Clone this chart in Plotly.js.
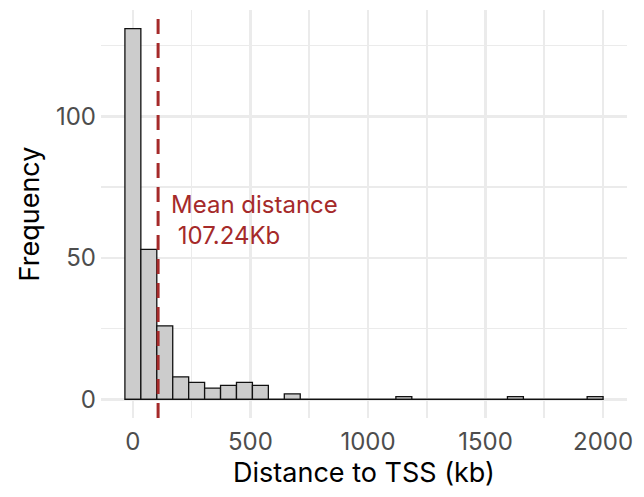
<!DOCTYPE html>
<html>
<head>
<meta charset="utf-8">
<script src="https://cdn.plot.ly/plotly-3.0.1.min.js"></script>
<style>html,body{margin:0;padding:0;background:#fff;}#chart{width:644px;height:497px;}</style>
</head>
<body>
<div id="chart"></div>
<script>
// Histogram bins (kb) and counts
const binCenters = [0, 67.8, 135.6, 203.4, 271.2, 339, 406.8, 474.6, 542.4, 610.2,
  678, 745.8, 813.6, 881.4, 949.2, 1017, 1084.8, 1152.6, 1220.4, 1288.2,
  1356, 1423.8, 1491.6, 1559.4, 1627.2, 1695, 1762.8, 1830.6, 1898.4, 1966.2];
const binWidth = 67.8;
const counts = [131, 53, 26, 8, 6, 4, 5, 6, 5, 0,
  2, 0, 0, 0, 0, 0, 0, 1, 0, 0,
  0, 0, 0, 0, 1, 0, 0, 0, 0, 1];
const meanDistance = 107.24;
const xTicks = [0, 500, 1000, 1500, 2000];
const yTicks = [0, 50, 100];

const font = "Inter, 'Noto Sans', sans-serif";
const red = "#a52a2a";

const xmin = binCenters[0] - binWidth / 2;
const xmax = binCenters[binCenters.length - 1] + binWidth / 2;
const xpad = (xmax - xmin) * 0.05;
const ymax = Math.max(...counts);
const ypad = ymax * 0.05;

const traces = [
  {
    type: "bar",
    x: binCenters,
    y: counts,
    width: binCenters.map(() => binWidth),
    marker: { color: "#cccccc", line: { color: "#111111", width: 1.3 } },
    hoverinfo: "x+y"
  },
  {
    // baseline outline of empty bins (ggplot draws zero-height rects)
    type: "scatter", mode: "lines",
    x: [xmin, xmax], y: [0, 0],
    line: { color: "#111111", width: 1.3 },
    hoverinfo: "skip"
  },
  {
    type: "scatter", mode: "lines",
    x: [meanDistance, meanDistance], y: [-ypad, ymax + ypad],
    line: { color: red, width: 3, dash: "15px,9px" },
    hoverinfo: "skip"
  }
];

const gridMajor = "#ebebeb";
const layout = {
  width: 644, height: 497,
  margin: { l: 101, r: 17, t: 10, b: 79 },
  paper_bgcolor: "#ffffff", plot_bgcolor: "#ffffff",
  showlegend: false,
  bargap: 0,
  font: { family: font, color: "#4d4d4d" },
  xaxis: {
    range: [xmin - xpad, xmax + xpad],
    tickvals: xTicks, ticktext: xTicks.map(String),
    showgrid: true, gridcolor: gridMajor, gridwidth: 2.6,
    minor: { dtick: 250, tick0: 0, showgrid: true, gridcolor: gridMajor, gridwidth: 1.6 },
    zeroline: false, showline: false, ticks: "",
    ticklabelstandoff: 7,
    tickfont: { size: 24, color: "#4d4d4d", family: font },
    title: { text: "Distance to TSS (kb)", font: { size: 27, color: "#000000", family: font }, standoff: 5 },
    automargin: false
  },
  yaxis: {
    range: [-ypad, ymax + ypad],
    tickvals: yTicks, ticktext: yTicks.map(String),
    showgrid: true, gridcolor: gridMajor, gridwidth: 2.6,
    minor: { dtick: 25, tick0: 0, showgrid: true, gridcolor: gridMajor, gridwidth: 1.6 },
    zeroline: false, showline: false, ticks: "",
    ticklabelstandoff: 4,
    tickfont: { size: 24, color: "#4d4d4d", family: font },
    title: { text: "Frequency", font: { size: 27, color: "#000000", family: font }, standoff: 8 },
    automargin: false
  },
  annotations: [
    { x: meanDistance, xref: "x", y: 63.3, yref: "y", yanchor: "middle", xanchor: "left",
      xshift: 11, align: "left", text: "Mean distance<br>\u00a0107.24Kb", showarrow: false,
      font: { size: 24, color: red, family: font } }
  ]
};

Plotly.newPlot("chart", traces, layout, { staticPlot: true, displayModeBar: false });
</script>
</body>
</html>
